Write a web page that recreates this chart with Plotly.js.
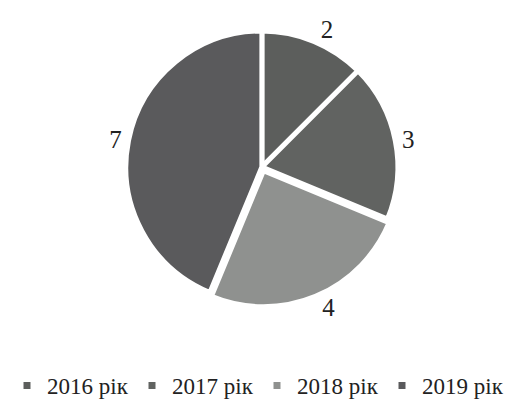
<!DOCTYPE html>
<html>
<head>
<meta charset="utf-8">
<script src="https://cdn.plot.ly/plotly-3.0.1.min.js"></script>
<style>html,body{margin:0;padding:0;background:#fff;}#chart{width:514px;height:419px;}</style>
</head>
<body>
<div id="chart"></div>
<script>
const categories = ["2016 рік", "2017 рік", "2018 рік", "2019 рік"];
const values = [2, 3, 4, 7];
const colors = ["#5c5e5c", "#616361", "#8f918f", "#5a5a5c"];

const trace = {
  type: "pie",
  labels: categories,
  values: values,
  text: values.map(String),
  textinfo: "text",
  textposition: "outside",
  sort: false,
  direction: "clockwise",
  rotation: 0,
  pull: [0, 0, 0.03, 0],
  marker: {colors: colors, line: {color: "#ffffff", width: 5}},
  outsidetextfont: {family: "Liberation Serif", size: 25, color: "#222"},
  automargin: false,
  domain: {x: [0.237, 0.782], y: [0.267, 0.936]},
  hoverinfo: "none"
};

const layout = {
  width: 514, height: 419,
  margin: {l: 0, r: 0, t: 0, b: 0},
  paper_bgcolor: "#ffffff",
  showlegend: true,
  legend: {
    orientation: "h", x: 0.5, xanchor: "center", y: 0.08, yanchor: "middle",
    font: {family: "Liberation Serif", size: 23, color: "#222"},
    itemwidth: 30, entrywidth: 80, entrywidthmode: "pixels"
  }
};

Plotly.newPlot("chart", [trace], layout, {staticPlot: true});
</script>
</body>
</html>
